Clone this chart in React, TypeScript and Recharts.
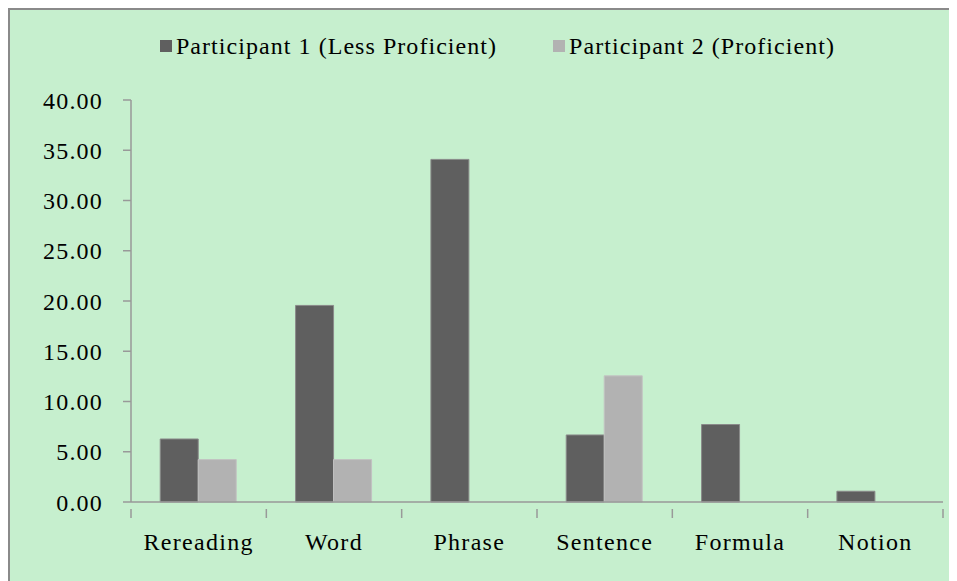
import React from "react";
import { BarChart, Bar, XAxis, YAxis, Legend } from "recharts";

const categories = ["Rereading", "Word", "Phrase", "Sentence", "Formula", "Notion"];
const participant1 = [6.27, 19.56, 34.09, 6.67, 7.71, 1.07];
const participant2 = [4.22, 4.22, 0, 12.55, 0, 0];
const yTicks = [0, 5, 10, 15, 20, 25, 30, 35, 40];

const data = categories.map((name, i) => ({
  name,
  p1: participant1[i],
  p2: participant2[i],
}));

const W = 949;
const H = 573;
const margin = { top: 62, right: 16, left: 11, bottom: 21 };
const yAxisWidth = 110;
const band = (W - margin.left - margin.right - yAxisWidth) / categories.length;

const FONT = "Liberation Serif";
const AXIS = "#999999";

const XTick = (props: any) => {
  const { x, y, payload, index } = props;
  const left = x - band / 2;
  return (
    <g>
      <line x1={left} y1={y - 1} x2={left} y2={y + 8} stroke={AXIS} strokeWidth={1.5} />
      {index === categories.length - 1 && (
        <line x1={x + band / 2} y1={y - 1} x2={x + band / 2} y2={y + 8} stroke={AXIS} strokeWidth={1.5} />
      )}
      <text
        x={x}
        y={y + 40}
        textAnchor="middle"
        style={{ fontFamily: FONT, fontSize: 24, letterSpacing: 1.3 }}
        fill="#000"
      >
        {payload.value}
      </text>
    </g>
  );
};

const LegendContent = () => {
  const items = [
    { label: "Participant 1 (Less Proficient)", color: "#5f5f5f" },
    { label: "Participant 2 (Proficient)", color: "#b2b2b2" },
  ];
  return (
    <div style={{ display: "flex", justifyContent: "center", alignItems: "center", gap: 56, paddingLeft: 26, height: 28 }}>
      {items.map((it) => (
        <div key={it.label} style={{ display: "flex", alignItems: "center" }}>
          <span style={{ width: 12, height: 12, background: it.color, marginRight: 4, display: "inline-block" }} />
          <span style={{ fontFamily: FONT, fontSize: 24, letterSpacing: 1.05, color: "#000", lineHeight: "28px" }}>{it.label}</span>
        </div>
      ))}
    </div>
  );
};

export default function App() {
  return (
    <div
      style={{
        width: W,
        height: H,
        background: "#c6efce",
        borderTop: "2px solid #8a8a8a",
        borderLeft: "2px solid #8a8a8a",
      }}
    >
      <BarChart
        width={W}
        height={H}
        data={data}
        margin={margin}
        barCategoryGap="21.6%"
        barGap={0}
      >
        <Legend
          verticalAlign="top"
          content={<LegendContent />}
          wrapperStyle={{ top: 22, left: 0, width: W }}
        />
        <XAxis
          dataKey="name"
          axisLine={{ stroke: AXIS, strokeWidth: 1.5 }}
          tickLine={false}
          tick={<XTick />}
          interval={0}
          height={60}
        />
        <YAxis
          width={yAxisWidth}
          domain={[0, 40]}
          ticks={yTicks}
          interval={0}
          tickFormatter={(v: number) => v.toFixed(2)}
          axisLine={{ stroke: AXIS, strokeWidth: 1.5 }}
          tickLine={{ stroke: AXIS, strokeWidth: 1.5 }}
          tickSize={8}
          tickMargin={20}
          tick={{ style: { fontFamily: FONT, fontSize: 24, letterSpacing: 1.2 }, fill: "#000" }}
        />
        <Bar dataKey="p1" fill="#5f5f5f" stroke="#8a8a8a" strokeWidth={1} isAnimationActive={false} />
        <Bar dataKey="p2" fill="#b2b2b2" stroke="#c2c2c2" strokeWidth={1} isAnimationActive={false} />
      </BarChart>
    </div>
  );
}
